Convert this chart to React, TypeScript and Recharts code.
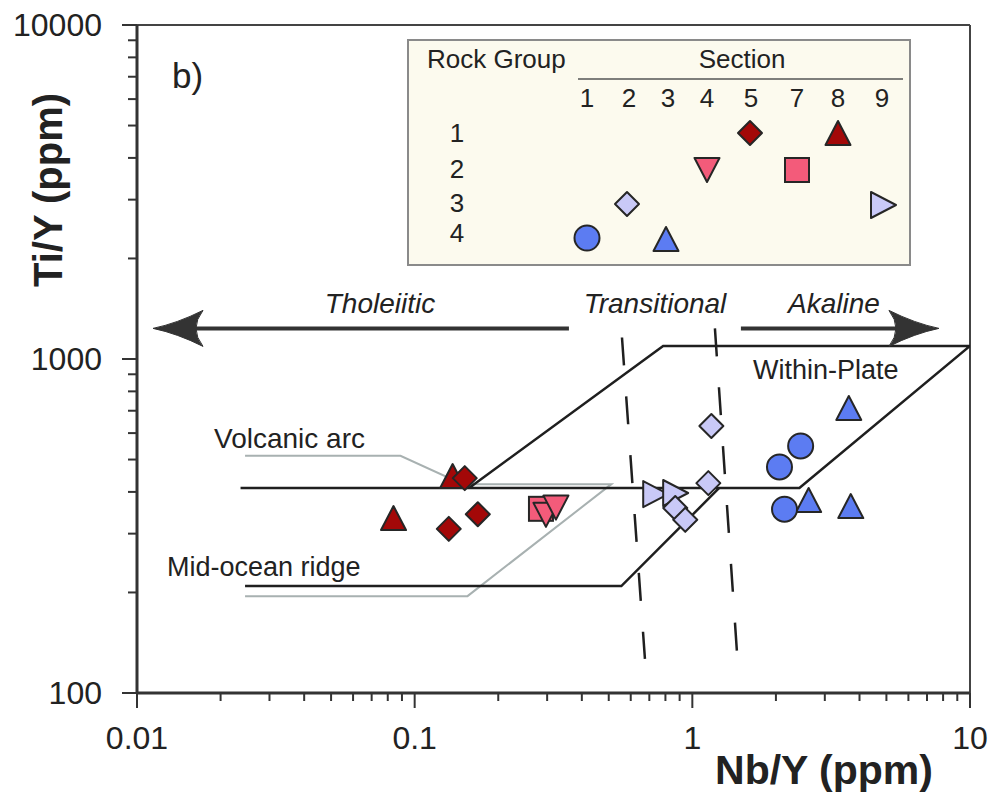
import React from 'react';
import { ScatterChart, Scatter, XAxis, YAxis, ReferenceLine } from 'recharts';

// ---------- data (Nb/Y, Ti/Y) ----------
const group1Triangles = [{ x: 0.0839, y: 325 }, { x: 0.137, y: 434 }];
const group1Diamonds = [{ x: 0.1515, y: 440 }, { x: 0.1327, y: 310 }, { x: 0.1688, y: 343 }];
const group2Squares = [{ x: 0.285, y: 356 }];
const group2DownTriangles = [{ x: 0.297, y: 351 }, { x: 0.3227, y: 369 }];
const group3RightTriangles = [{ x: 0.711, y: 394 }, { x: 0.839, y: 397 }];
const group3Diamonds = [{ x: 1.171, y: 630 }, { x: 1.142, y: 425 }, { x: 0.868, y: 358 }, { x: 0.943, y: 330 }];
const group4Triangles = [{ x: 3.66, y: 694 }, { x: 2.623, y: 368 }, { x: 3.72, y: 353 }];
const group4Circles = [{ x: 2.455, y: 549 }, { x: 2.06, y: 475 }, { x: 2.148, y: 355 }];

// discrimination diagram boundaries
const withinPlateLine = [{ x: 0.0236, y: 411 }, { x: 2.43, y: 411 }, { x: 10, y: 1094 }, { x: 0.785, y: 1094 }, { x: 0.157, y: 411 }];
const morbLine = [{ x: 0.0245, y: 209 }, { x: 0.555, y: 209 }, { x: 1.25, y: 411 }];
const volcanicArcLine = [{ x: 0.0245, y: 513 }, { x: 0.0889, y: 513 }, { x: 0.149, y: 422 }, { x: 0.511, y: 422 }, { x: 0.155, y: 195 }, { x: 0.0245, y: 195 }];
const dashLeft = [{ x: 0.558, y: 1160 }, { x: 0.675, y: 126.5 }];
const dashRight = [{ x: 1.206, y: 1235 }, { x: 1.447, y: 133.6 }];
const arrowLeftLine = [{ x: 0.3594, y: 1235 }, { x: 0.0125, y: 1235 }];
const arrowRightLine = [{ x: 1.496, y: 1235 }, { x: 7.0, y: 1235 }];
const arrowLeftTip = [{ x: 0.01142, y: 1235 }];
const arrowRightTip = [{ x: 7.73, y: 1235 }];

const xTicks = [0.01, 0.02, 0.03, 0.04, 0.05, 0.06, 0.07, 0.08, 0.09, 0.1, 0.2, 0.3, 0.4, 0.5, 0.6, 0.7, 0.8, 0.9, 1, 2, 3, 4, 5, 6, 7, 8, 9, 10];
const yTicks = [100, 200, 300, 400, 500, 600, 700, 800, 900, 1000, 2000, 3000, 4000, 5000, 6000, 7000, 8000, 9000, 10000];
const xTickLabels: Record<string, string> = { '0.01': '0.01', '0.1': '0.1', '1': '1', '10': '10' };
const yTickLabels: Record<string, string> = { '100': '100', '1000': '1000', '10000': '10000' };

const legendColumns = ['1', '2', '3', '4', '5', '7', '8', '9'];
const legendRows = ['1', '2', '3', '4'];

const C1 = '#A30808';
const C2 = '#F35B7A';
const C3 = '#C9C9F7';
const C4 = '#5C7CF2';
const STROKE = '#262626';
const FONT = '"Liberation Sans", Arial, sans-serif';

const isMajor = (v: number) => Math.abs(Math.log10(v) - Math.round(Math.log10(v))) < 1e-6;

// ---------- marker shapes ----------
const Diamond = ({ cx, cy, fill, r = 12 }: any) => (
  <path d={`M${cx},${cy - r}L${cx + r},${cy}L${cx},${cy + r}L${cx - r},${cy}Z`} fill={fill} stroke={STROKE} strokeWidth={2} strokeLinejoin="round" />
);
const TriUp = ({ cx, cy, fill }: any) => (
  <path d={`M${cx},${cy - 16}L${cx + 12.5},${cy + 8}L${cx - 12.5},${cy + 8}Z`} fill={fill} stroke={STROKE} strokeWidth={2} strokeLinejoin="round" />
);
const TriDown = ({ cx, cy, fill }: any) => (
  <path d={`M${cx - 12.5},${cy - 8}L${cx + 12.5},${cy - 8}L${cx},${cy + 16}Z`} fill={fill} stroke={STROKE} strokeWidth={2} strokeLinejoin="round" />
);
const TriRight = ({ cx, cy, fill }: any) => (
  <path d={`M${cx - 8},${cy - 13}L${cx + 17},${cy}L${cx - 8},${cy + 13}Z`} fill={fill} stroke={STROKE} strokeWidth={2} strokeLinejoin="round" />
);
const Square = ({ cx, cy, fill }: any) => (
  <rect x={cx - 12} y={cy - 12} width={24} height={24} fill={fill} stroke={STROKE} strokeWidth={2} />
);
const Circle = ({ cx, cy, fill }: any) => (
  <circle cx={cx} cy={cy} r={12.5} fill={fill} stroke={STROKE} strokeWidth={2} />
);
const ArrowHead = ({ cx, cy, dir }: any) => {
  const s = dir === 'left' ? 1 : -1;
  return (
    <path
      d={`M${cx},${cy} Q${cx + s * 24},${cy - 5} ${cx + s * 50},${cy - 18} Q${cx + s * 36},${cy} ${cx + s * 50},${cy + 18} Q${cx + s * 24},${cy + 5} ${cx},${cy} Z`}
      fill="#333"
      stroke="#333"
      strokeWidth={1}
      strokeLinejoin="round"
    />
  );
};
const Nothing = () => <g />;

// ---------- ticks ----------
const XTick = (props: any) => {
  const { x, y, payload } = props;
  const v = payload.value;
  const major = isMajor(v);
  const label = xTickLabels[String(v)];
  return (
    <g>
      <line x1={x} x2={x} y1={y} y2={y + (major ? 15 : 8)} stroke="#333" strokeWidth={2} />
      {label && (
        <text x={x} y={y + 56} textAnchor="middle" fontSize={32} fontFamily={FONT} fill="#222">
          {label}
        </text>
      )}
    </g>
  );
};
const YTick = (props: any) => {
  const { x, y, payload } = props;
  const v = payload.value;
  const major = isMajor(v);
  const label = yTickLabels[String(v)];
  return (
    <g>
      <line x1={x - (major ? 15 : 9)} x2={x} y1={y} y2={y} stroke="#333" strokeWidth={2} />
      {label && (
        <text x={x - 35} y={y + 11} textAnchor="end" fontSize={32} fontFamily={FONT} fill="#222">
          {label}
        </text>
      )}
    </g>
  );
};

const colX = [587, 629, 668, 707, 751, 797, 838, 882];
const rowY = [142, 178, 212, 242];

export default function App() {
  return (
    <div style={{ position: 'absolute', left: 0, top: 0, width: 989, height: 796, background: '#fff' }}>
      <ScatterChart width={989} height={796} margin={{ top: 25, right: 19, bottom: 13, left: 77 }}>
        <XAxis
          type="number"
          dataKey="x"
          scale="log"
          domain={[0.01, 10]}
          allowDataOverflow
          ticks={xTicks}
          interval={0}
          height={90}
          tickSize={0}
          tickMargin={0}
          tickLine={false}
          tick={<XTick />}
          axisLine={{ stroke: '#333', strokeWidth: 3 }}
        />
        <YAxis
          type="number"
          dataKey="y"
          scale="log"
          domain={[100, 10000]}
          allowDataOverflow
          ticks={yTicks}
          interval={0}
          width={60}
          tickSize={0}
          tickMargin={0}
          tickLine={false}
          tick={<YTick />}
          axisLine={{ stroke: '#333', strokeWidth: 3 }}
        />
        <ReferenceLine y={10000} stroke="#444" strokeWidth={2} />
        <ReferenceLine x={10} stroke="#444" strokeWidth={2} />

        <Scatter data={volcanicArcLine} line={{ stroke: '#A8B1B1', strokeWidth: 2 }} shape={<Nothing />} isAnimationActive={false} />
        <Scatter data={withinPlateLine} line={{ stroke: '#1f1f1f', strokeWidth: 2.5 }} shape={<Nothing />} isAnimationActive={false} />
        <Scatter data={morbLine} line={{ stroke: '#1f1f1f', strokeWidth: 2.5 }} shape={<Nothing />} isAnimationActive={false} />
        <Scatter data={dashLeft} line={{ stroke: '#1f1f1f', strokeWidth: 2.5, strokeDasharray: '28 31' }} shape={<Nothing />} isAnimationActive={false} />
        <Scatter data={dashRight} line={{ stroke: '#1f1f1f', strokeWidth: 2.5, strokeDasharray: '28 31' }} shape={<Nothing />} isAnimationActive={false} />
        <Scatter data={arrowLeftLine} line={{ stroke: '#333', strokeWidth: 4 }} shape={<Nothing />} isAnimationActive={false} />
        <Scatter data={arrowRightLine} line={{ stroke: '#333', strokeWidth: 4 }} shape={<Nothing />} isAnimationActive={false} />
        <Scatter data={arrowLeftTip} shape={(p: any) => <ArrowHead cx={p.cx} cy={p.cy} dir="left" />} isAnimationActive={false} />
        <Scatter data={arrowRightTip} shape={(p: any) => <ArrowHead cx={p.cx} cy={p.cy} dir="right" />} isAnimationActive={false} />

        <Scatter data={group1Triangles} shape={(p: any) => <TriUp cx={p.cx} cy={p.cy} fill={C1} />} isAnimationActive={false} />
        <Scatter data={group1Diamonds} shape={(p: any) => <Diamond cx={p.cx} cy={p.cy} fill={C1} />} isAnimationActive={false} />
        <Scatter data={group2Squares} shape={(p: any) => <Square cx={p.cx} cy={p.cy} fill={C2} />} isAnimationActive={false} />
        <Scatter data={group2DownTriangles} shape={(p: any) => <TriDown cx={p.cx} cy={p.cy} fill={C2} />} isAnimationActive={false} />
        <Scatter data={group3RightTriangles} shape={(p: any) => <TriRight cx={p.cx} cy={p.cy} fill={C3} />} isAnimationActive={false} />
        <Scatter data={group3Diamonds} shape={(p: any) => <Diamond cx={p.cx} cy={p.cy} fill={C3} />} isAnimationActive={false} />
        <Scatter data={group4Triangles} shape={(p: any) => <TriUp cx={p.cx} cy={p.cy} fill={C4} />} isAnimationActive={false} />
        <Scatter data={group4Circles} shape={(p: any) => <Circle cx={p.cx} cy={p.cy} fill={C4} />} isAnimationActive={false} />
      </ScatterChart>

      <svg width={989} height={796} style={{ position: 'absolute', left: 0, top: 0, pointerEvents: 'none' }}>
        <g fontFamily={FONT} fill="#222">
          <text x={48} y={190} transform="rotate(-90 48 190)" dy={14} textAnchor="middle" fontSize={40} fontWeight="bold">Ti/Y (ppm)</text>
          <text x={824} y={784} textAnchor="middle" fontSize={41} fontWeight="bold">Nb/Y (ppm)</text>
          <text x={172} y={88} fontSize={35}>b)</text>
          <text x={380} y={313} textAnchor="middle" fontSize={28} fontStyle="italic">Tholeiitic</text>
          <text x={655} y={313} textAnchor="middle" fontSize={28} fontStyle="italic">Transitional</text>
          <text x={834} y={313} textAnchor="middle" fontSize={28} fontStyle="italic">Akaline</text>
          <text x={214} y={448} fontSize={28}>Volcanic arc</text>
          <text x={167} y={576} fontSize={27}>Mid-ocean ridge</text>
          <text x={753} y={379} fontSize={27}>Within-Plate</text>
        </g>

        <rect x={408} y={40} width={502} height={225} fill="#FCFAEE" stroke="#8a8a8a" strokeWidth={2} />
        <g fontFamily={FONT} fill="#222" fontSize={26}>
          <text x={427} y={68}>Rock Group</text>
          <text x={742} y={68} textAnchor="middle">Section</text>
          <line x1={578} x2={903} y1={79} y2={79} stroke="#555" strokeWidth={1.5} />
          {legendColumns.map((c, i) => (
            <text key={c} x={colX[i]} y={107} textAnchor="middle">{c}</text>
          ))}
          {legendRows.map((r, i) => (
            <text key={r} x={457} y={rowY[i]} textAnchor="middle">{r}</text>
          ))}
        </g>
        <Diamond cx={750} cy={133} fill={C1} />
        <TriUp cx={838} cy={137} fill={C1} />
        <TriDown cx={707} cy={166} fill={C2} />
        <Square cx={797} cy={170} fill={C2} />
        <Diamond cx={627} cy={204} fill={C3} />
        <TriRight cx={879} cy={205} fill={C3} />
        <Circle cx={587} cy={238} fill={C4} />
        <TriUp cx={666} cy={243} fill={C4} />
      </svg>
    </div>
  );
}
